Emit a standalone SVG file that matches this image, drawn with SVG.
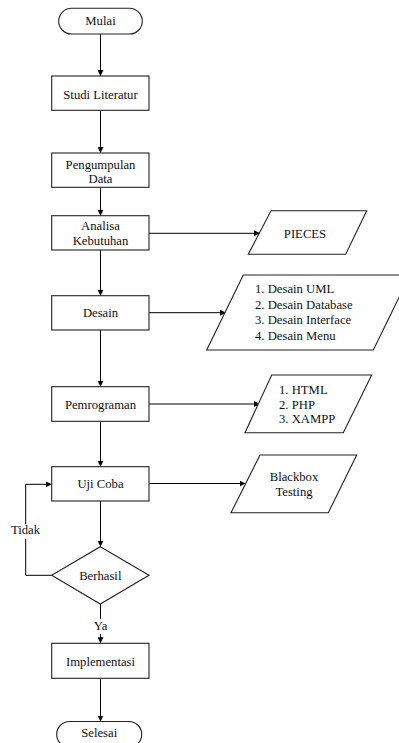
<svg xmlns="http://www.w3.org/2000/svg" width="399" height="743" viewBox="0 0 399 743">
<defs>
<marker id="ah" markerWidth="6" markerHeight="6" refX="6" refY="3" orient="auto" markerUnits="userSpaceOnUse">
<path d="M0,0 L6,3 L0,6 Z" fill="#000"/>
</marker>
<style>
.s{fill:#fff;stroke:#222;stroke-width:1.1}
.c{fill:none;stroke:#000;stroke-width:1}
text{font-size:12.7px;fill:#111}
.m{text-anchor:middle}
</style>
</defs>
<rect width="399" height="743" fill="#fff"/>
<g id="connectors">
<path class="c" d="M100.5,34 V76" marker-end="url(#ah)"/>
<path class="c" d="M100.5,110.3 V153" marker-end="url(#ah)"/>
<path class="c" d="M100.5,187.3 V215.7" marker-end="url(#ah)"/>
<path class="c" d="M100.5,250 V295.7" marker-end="url(#ah)"/>
<path class="c" d="M100.5,330 V386.7" marker-end="url(#ah)"/>
<path class="c" d="M100.5,421.3 V466.7" marker-end="url(#ah)"/>
<path class="c" d="M100.5,501 V546.7" marker-end="url(#ah)"/>
<path class="c" d="M100.5,604 V619"/>
<path class="c" d="M100.5,634 V643.3" marker-end="url(#ah)"/>
<path class="c" d="M100.5,678.3 V721.5" marker-end="url(#ah)"/>
<path class="c" d="M51.7,575.3 H25.7 V539"/>
<path class="c" d="M25.7,524 V484.3 H51.7" marker-end="url(#ah)"/>
<path class="c" d="M149,233.3 H260" marker-end="url(#ah)"/>
<path class="c" d="M149,312.7 H226" marker-end="url(#ah)"/>
<path class="c" d="M149,404 H260" marker-end="url(#ah)"/>
<path class="c" d="M149,483.5 H245.5" marker-end="url(#ah)"/>
</g>
<g font-family="'Liberation Serif', 'Times New Roman', 'DejaVu Serif', serif">
<g id="mulai"><rect class="s" x="58.7" y="8.3" width="83.6" height="25.7" rx="12.8"/><text class="m" x="100.5" y="25.3">Mulai</text></g>
<g id="studi"><rect class="s" x="51.7" y="76" width="97.3" height="34.3"/><text class="m" x="100.5" y="98.5">Studi Literatur</text></g>
<g id="pengumpulan"><rect class="s" x="51.7" y="153" width="97.3" height="34.3"/><text class="m" x="100.5" y="168.5">Pengumpulan</text><text class="m" x="100.5" y="183">Data</text></g>
<g id="analisa"><rect class="s" x="51.7" y="215.7" width="97.3" height="34.3"/><text class="m" x="100.5" y="230">Analisa</text><text class="m" x="100.5" y="245">Kebutuhan</text></g>
<g id="pieces"><polygon class="s" points="271,210.7 366.7,210.7 345.7,254.3 248.3,254.3"/><text class="m" x="305" y="237.5">PIECES</text></g>
<g id="desain"><rect class="s" x="51.7" y="295.7" width="97.3" height="34.3"/><text class="m" x="100.5" y="317">Desain</text></g>
<g id="desain-list"><polygon class="s" points="243.3,275 410,275 373.3,350 206.7,350"/>
<text x="255" y="293">1. Desain UML</text><text x="255" y="308.5">2. Desain Database</text><text x="255" y="324">3. Desain Interface</text><text x="255" y="339.5">4. Desain Menu</text></g>
<g id="pemrograman"><rect class="s" x="51.7" y="386.7" width="97.3" height="34.6"/><text class="m" x="100.5" y="408.5">Pemrograman</text></g>
<g id="tools"><polygon class="s" points="271.7,375 371.7,375 343.3,432.7 245,432.7"/>
<text x="279" y="394">1. HTML</text><text x="279" y="408.5">2. PHP</text><text x="279" y="423">3. XAMPP</text></g>
<g id="ujicoba"><rect class="s" x="51.7" y="466.7" width="97.3" height="34.3"/><text class="m" x="100.5" y="487.5">Uji Coba</text></g>
<g id="blackbox"><polygon class="s" points="260,455 356.7,455 328.3,512.7 231,512.7"/><text class="m" x="294" y="481">Blackbox</text><text class="m" x="294" y="496">Testing</text></g>
<g id="berhasil"><polygon class="s" points="100.3,546.7 149,575.3 100.3,604 51.7,575.3"/><text class="m" x="100.3" y="580">Berhasil</text></g>
<g id="label-tidak"><text class="m" x="25.5" y="534">Tidak</text></g>
<g id="label-ya"><text class="m" x="100.5" y="629.5">Ya</text></g>
<g id="implementasi"><rect class="s" x="51.7" y="643.3" width="97.3" height="35"/><text class="m" x="100.5" y="666">Implementasi</text></g>
<g id="selesai"><rect class="s" x="56.7" y="721.5" width="85" height="25.7" rx="12.8"/><text class="m" x="99.2" y="737">Selesai</text></g>
</g>
</svg>
